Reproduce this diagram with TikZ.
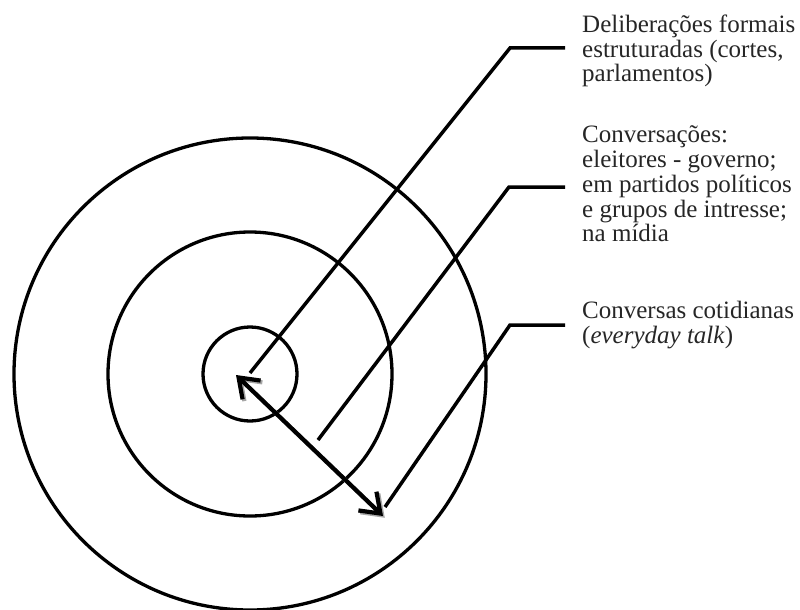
\documentclass[tikz,border=0pt]{standalone}
\usepackage{fontspec}
\setmainfont{Liberation Serif}
\usetikzlibrary{arrows.meta}

\begin{document}
\begin{tikzpicture}[x=1pt,y=-1pt,
  ring/.style={circle, draw, line width=3.3pt, inner sep=0pt},
  leader/.style={line width=3.5pt, line join=miter},
  caption/.style={anchor=west, align=left, inner sep=0pt, text=black!85,
    font=\fontsize{25}{24.8}\selectfont},
  dblarrow/.style={line width=4.2pt,
    {Straight Barb[length=18pt,width=26pt]}-{Straight Barb[length=18pt,width=26pt]}}]
\useasboundingbox (0,0) rectangle (800,610);

% concentric spheres of deliberation
\node[ring, minimum size=472pt] (outer)  at (250,374) {};
\node[ring, minimum size=284pt] (middle) at (250,374) {};
\node[ring, minimum size=94pt]  (inner)  at (250,374) {};

% captions
\node[caption] (t1) at (582,51) {Deliberações formais\\estruturadas (cortes,\\parlamentos)};
\node[caption] (t2) at (582,184) {Conversações:\\eleitores - governo;\\em partidos políticos\\e grupos de intresse;\\na mídia};
\node[caption] (t3) at (582,325) {Conversas cotidianas\\(\textit{everyday talk})};

% leader lines from each sphere to its caption
\coordinate (s1) at (250,373);
\coordinate (k1) at (510,48);
\coordinate (e1) at (565,48);
\coordinate (s2) at (318,440);
\coordinate (k2) at (509,187);
\coordinate (e2) at (565,187);
\coordinate (s3) at (385,507);
\coordinate (k3) at (510,325);
\coordinate (e3) at (565,325);
\draw[leader] (s1) -- (k1) -- (e1);
\draw[leader] (s2) -- (k2) -- (e2);
\draw[leader] (s3) -- (k3) -- (e3);

% double arrow across the spheres, with a soft drop shadow
\coordinate (a1) at (236,375);
\coordinate (a2) at (383,516);
\draw[dblarrow, black!35] ([shift={(1.8,1.8)}]a1) -- ([shift={(1.8,1.8)}]a2);
\draw[dblarrow] (a1) -- (a2);
\end{tikzpicture}
\end{document}
